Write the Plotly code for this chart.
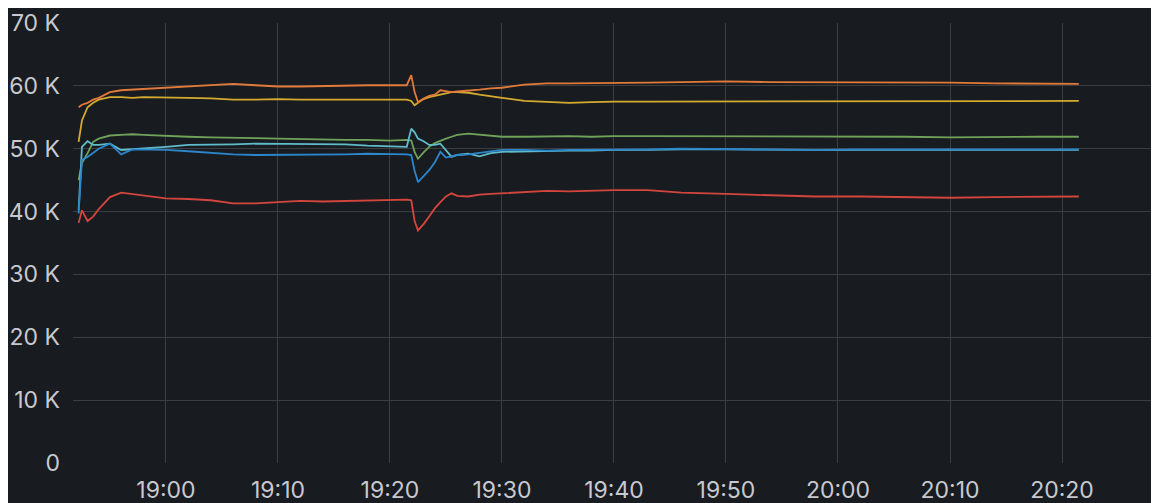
import datetime as dt
import plotly.graph_objects as go

# minutes relative to 19:00
minutes = [-7.8, -7.5, -7.0, -6.5, -6.0, -5.0, -4.0, -3.0, -2.0, -1.0, 0, 2, 4, 6, 8, 10, 12, 14, 16, 18, 20,
           21.5, 21.9, 22.2, 22.5, 23, 23.5, 24, 24.5, 25, 25.5, 26, 27, 28, 29, 30, 32, 34, 36, 38, 40,
           43, 46, 50, 54, 58, 62, 66, 70, 74, 78, 81.5]

orange = [56.6, 57.0, 57.3, 57.8, 58.1, 59.0, 59.3, 59.4, 59.6, 59.7, 59.8, 59.9, 60.2, 60.3, 60.1, 59.9, 59.9, 60.0, 60.0, 60.1, 60.1,
          60.1, 61.7, 59.0, 57.4, 58.0, 58.4, 58.6, 59.3, 59.2, 59.0, 59.1, 59.2, 59.4, 59.6, 59.7, 60.2, 60.4, 60.4, 60.4, 60.4,
          60.5, 60.6, 60.7, 60.6, 60.6, 60.6, 60.5, 60.5, 60.4, 60.4, 60.3]
yellow = [51.1, 54.5, 56.6, 57.3, 57.8, 58.2, 58.2, 58.1, 58.2, 58.2, 58.2, 58.1, 58.0, 57.8, 57.8, 57.9, 57.8, 57.8, 57.8, 57.9, 57.8,
          57.8, 57.6, 56.9, 57.3, 57.9, 58.2, 58.4, 58.5, 58.8, 59.0, 59.0, 58.9, 58.6, 58.4, 58.1, 57.6, 57.4, 57.3, 57.4, 57.5,
          57.5, 57.5, 57.6, 57.5, 57.5, 57.5, 57.5, 57.6, 57.5, 57.5, 57.6]
green = [45.0, 47.7, 49.3, 51.1, 51.6, 52.1, 52.2, 52.3, 52.2, 52.1, 52.1, 51.9, 51.8, 51.8, 51.7, 51.6, 51.5, 51.5, 51.4, 51.4, 51.3,
         51.4, 51.3, 49.5, 48.4, 49.4, 50.3, 50.9, 51.3, 51.6, 51.9, 52.2, 52.4, 52.2, 52.0, 51.9, 51.9, 52.0, 52.0, 51.9, 52.0,
         52.0, 52.0, 52.0, 51.9, 51.9, 51.9, 51.9, 51.8, 51.9, 51.9, 51.9]
teal = [40.2, 50.3, 51.2, 50.6, 50.6, 50.8, 49.8, 49.9, 50.0, 50.2, 50.3, 50.6, 50.6, 50.7, 50.8, 50.8, 50.8, 50.7, 50.7, 50.5, 50.4,
        50.3, 53.2, 52.6, 51.6, 51.2, 50.6, 50.6, 50.8, 49.8, 48.7, 49.0, 49.2, 48.8, 49.3, 49.5, 49.6, 49.6, 49.7, 49.7, 49.8,
        49.8, 49.9, 49.9, 49.8, 49.8, 49.8, 49.8, 49.8, 49.8, 49.8, 49.8]
blue = [39.7, 48.2, 48.7, 49.4, 50.0, 50.8, 49.1, 49.9, 49.9, 49.9, 49.8, 49.6, 49.3, 49.1, 49.0, 49.0, 49.0, 49.0, 49.1, 49.2, 49.2,
        49.1, 49.0, 46.5, 44.7, 45.6, 46.6, 47.8, 49.5, 48.6, 48.8, 49.0, 49.1, 49.3, 49.6, 49.8, 49.8, 49.7, 49.8, 49.8, 49.9,
        49.9, 50.0, 49.9, 49.9, 49.8, 49.9, 49.9, 49.8, 49.8, 49.8, 49.9]
red = [38.2, 40.2, 38.5, 39.2, 40.4, 42.3, 43.0, 42.8, 42.6, 42.3, 42.1, 42.0, 41.8, 41.3, 41.3, 41.5, 41.7, 41.6, 41.7, 41.8, 41.9,
       41.9, 41.8, 38.5, 37.0, 38.0, 39.2, 40.5, 41.5, 42.4, 42.9, 42.5, 42.4, 42.7, 42.8, 42.9, 43.1, 43.3, 43.2, 43.3, 43.4,
       43.4, 43.0, 42.8, 42.6, 42.4, 42.4, 42.3, 42.2, 42.3, 42.4, 42.4]

y_ticks = [0, 10000, 20000, 30000, 40000, 50000, 60000, 70000]
y_tick_labels = ["0", "10 K", "20 K", "30 K", "40 K", "50 K", "60 K", "70 K"]

series = [
    ("green", green, "#6fa35c"),
    ("teal", teal, "#5fbccb"),
    ("blue", blue, "#2c86cc"),
    ("yellow", yellow, "#d6aa30"),
    ("orange", orange, "#e27b3a"),
    ("red", red, "#d4463d"),
]

base = dt.datetime(2024, 1, 1, 19, 0, 0)
times = [base + dt.timedelta(minutes=m) for m in minutes]

fig = go.Figure()
for name, vals, color in series:
    fig.add_trace(go.Scatter(x=times, y=[v * 1000 for v in vals], mode="lines", name=name,
                             line=dict(color=color, width=1.8), showlegend=False))

bg = "#181b1f"
grid = "#3a3d42"
txt = "#c8c9d0"
fig.update_layout(
    width=1159, height=503,
    margin=dict(l=65, r=8, t=15, b=48, autoexpand=False),
    paper_bgcolor=bg, plot_bgcolor=bg,
    font=dict(family="Inter", size=23, color=txt),
    xaxis=dict(
        range=[base + dt.timedelta(minutes=-8.3), base + dt.timedelta(minutes=88.66)],
        tickformat="%H:%M", dtick=600000, tick0=base, automargin=False,
        showgrid=True, gridcolor=grid, gridwidth=1,
        zeroline=False, showline=False, ticks="", ticklabelstandoff=11,
    ),
    yaxis=dict(
        range=[0, 70000], tickvals=y_ticks, ticktext=y_tick_labels, automargin=False,
        showgrid=True, gridcolor=grid, gridwidth=1,
        zeroline=False, showline=False, ticks="", ticklabelstandoff=12,
    ),
)
fig.write_html("out.html", config={"displayModeBar": False})
